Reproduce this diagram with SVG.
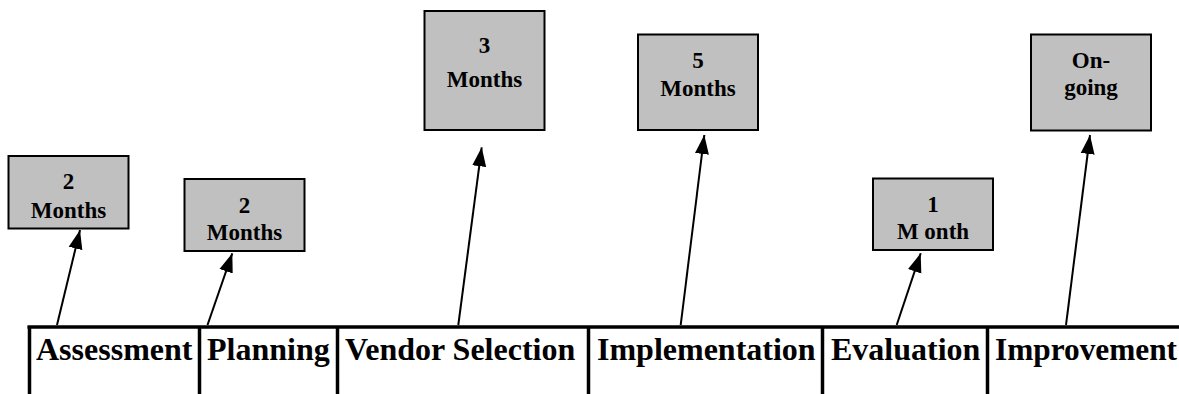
<svg xmlns="http://www.w3.org/2000/svg" width="1179" height="394" viewBox="0 0 1179 394">
<style>
.box{fill:#c0c0c0;stroke:#000;stroke-width:2}
.bt{font-family:"Liberation Serif","Times New Roman",serif;font-weight:bold;font-size:23px;text-anchor:middle;fill:#000}
.ph{font-family:"Liberation Serif","Times New Roman",serif;font-weight:bold;font-size:32px;fill:#000}
.tl{stroke:#000;stroke-width:3.5;fill:none}
.ar{stroke:#000;stroke-width:2;fill:none;marker-end:url(#ah)}
</style>
<defs>
<marker id="ah" markerUnits="userSpaceOnUse" markerWidth="20" markerHeight="16" viewBox="0 0 20 16" refX="19" refY="8" orient="auto">
<path d="M0,1 L19,8 L0,15 z" fill="#000"/>
</marker>
</defs>
<g id="table">
<line class="tl" x1="27.5" y1="327" x2="1179" y2="327"/>
<line class="tl" x1="29.5" y1="326" x2="29.5" y2="394"/>
<line class="tl" x1="199.5" y1="326" x2="199.5" y2="394"/>
<line class="tl" x1="337.5" y1="326" x2="337.5" y2="394"/>
<line class="tl" x1="588.5" y1="326" x2="588.5" y2="394"/>
<line class="tl" x1="822.5" y1="326" x2="822.5" y2="394"/>
<line class="tl" x1="987.5" y1="326" x2="987.5" y2="394"/>
</g>
<g id="phase-assessment"><text class="ph" x="36" y="360">Assessment</text></g>
<g id="phase-planning"><text class="ph" x="207" y="360">Planning</text></g>
<g id="phase-vendor"><text class="ph" x="345" y="360">Vendor Selection</text></g>
<g id="phase-implementation"><text class="ph" x="597" y="360">Implementation</text></g>
<g id="phase-evaluation"><text class="ph" x="831" y="360">Evaluation</text></g>
<g id="phase-improvement"><text class="ph" x="995" y="360" textLength="182" lengthAdjust="spacingAndGlyphs">Improvement</text></g>
<g id="box-assessment">
<rect class="box" x="8.5" y="156" width="120" height="72.5"/>
<text class="bt" x="68.5" y="189">2</text>
<text class="bt" x="68.5" y="217.5">Months</text>
</g>
<g id="box-planning">
<rect class="box" x="184.5" y="179" width="120" height="72"/>
<text class="bt" x="244.5" y="213">2</text>
<text class="bt" x="244.5" y="240">Months</text>
</g>
<g id="box-vendor">
<rect class="box" x="424.5" y="11" width="120" height="119"/>
<text class="bt" x="484.5" y="53">3</text>
<text class="bt" x="484.5" y="86.5">Months</text>
</g>
<g id="box-implementation">
<rect class="box" x="638" y="34.5" width="120" height="95.5"/>
<text class="bt" x="698" y="68">5</text>
<text class="bt" x="698" y="95.5">Months</text>
</g>
<g id="box-evaluation">
<rect class="box" x="873" y="178.5" width="120" height="71.5"/>
<text class="bt" x="933" y="211.5">1</text>
<text class="bt" x="933" y="239">M onth</text>
</g>
<g id="box-improvement">
<rect class="box" x="1031" y="34.5" width="120" height="96"/>
<text class="bt" x="1091" y="68">On-</text>
<text class="bt" x="1091" y="95">going</text>
</g>
<g id="connectors">
<line class="ar" x1="57" y1="325" x2="80" y2="230"/>
<line class="ar" x1="207.5" y1="325" x2="232.3" y2="253.3"/>
<line class="ar" x1="458.3" y1="325" x2="481.7" y2="147.3"/>
<line class="ar" x1="680.7" y1="325" x2="704.3" y2="135"/>
<line class="ar" x1="896.7" y1="325" x2="920.7" y2="253.3"/>
<line class="ar" x1="1066" y1="325" x2="1090" y2="135"/>
</g>
</svg>
